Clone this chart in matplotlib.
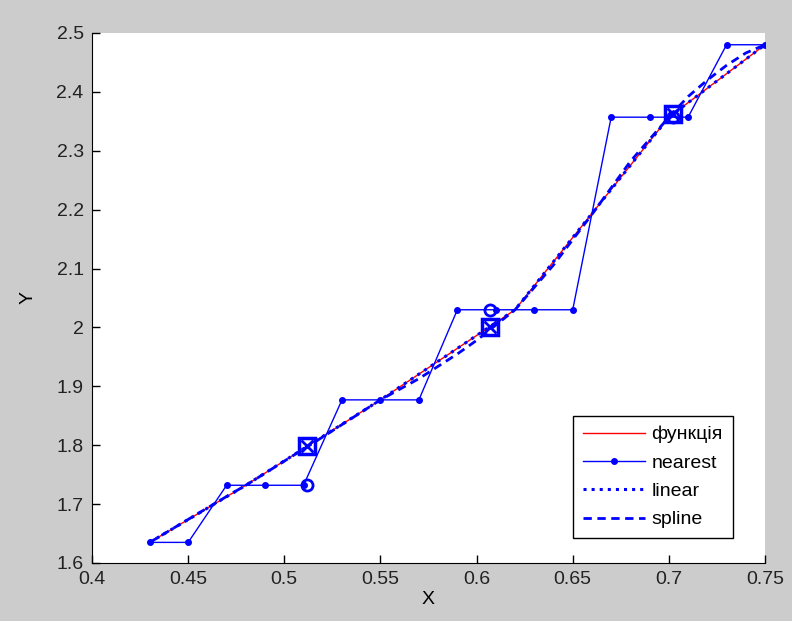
import matplotlib
matplotlib.use('Agg')
import matplotlib.pyplot as plt

# table nodes (function / linear interpolation)
node_x = [0.43, 0.48, 0.55, 0.62, 0.70, 0.75]
node_y = [1.635, 1.732, 1.877, 2.03, 2.357, 2.48]

# nearest interpolation on the 0.02 grid
near_x = [0.43, 0.45, 0.47, 0.49, 0.51, 0.53, 0.55, 0.57, 0.59,
          0.61, 0.63, 0.65, 0.67, 0.69, 0.71, 0.73, 0.75]
near_y = [1.635, 1.635, 1.732, 1.732, 1.732, 1.877, 1.877, 1.877, 2.03,
          2.03, 2.03, 2.03, 2.357, 2.357, 2.357, 2.48, 2.48]

# spline curve
spl_x = [0.43, 0.45, 0.47, 0.48, 0.50, 0.52, 0.55, 0.57, 0.59, 0.60,
         0.62, 0.64, 0.66, 0.68, 0.70, 0.71, 0.72, 0.73, 0.74, 0.75]
spl_y = [1.635, 1.674, 1.713, 1.732, 1.773, 1.814, 1.877, 1.913, 1.955, 1.978,
         2.03, 2.106, 2.192, 2.282, 2.357, 2.392, 2.420, 2.445, 2.466, 2.48]

# test points
pt_x = [0.512, 0.607, 0.702]
pt_interp = [1.798, 2.0, 2.363]
pt_near = [1.732, 2.03, 2.357]

plt.rcParams['font.family'] = ['Liberation Sans', 'DejaVu Sans']
plt.rcParams['font.size'] = 14

fig = plt.figure(figsize=(7.92, 6.21), dpi=100, facecolor='#cccccc')
ax = fig.add_axes([0.1162, 0.0934, 0.8497, 0.8535])

ax.plot(node_x, node_y, color='red', lw=1, label='функція')
ax.plot(near_x, near_y, color='blue', lw=1, marker='.', markersize=8, label='nearest')
ax.plot(node_x, node_y, color='blue', lw=2.2, linestyle=':', label='linear')
ax.plot(spl_x, spl_y, color='blue', lw=2, linestyle='--', dashes=(3, 2), label='spline')

ax.plot(pt_x, pt_near, 'o', color='blue', mfc='none', mew=2, markersize=8)
ax.plot(pt_x, pt_interp, 's', color='blue', mfc='none', mew=2.5, markersize=12)
ax.plot(pt_x, pt_interp, 'x', color='blue', mew=2, markersize=8)

ax.set_xlim(0.4, 0.75)
ax.set_ylim(1.6, 2.5)
ax.set_xticks([0.4, 0.45, 0.5, 0.55, 0.6, 0.65, 0.7, 0.75])
ax.set_xticklabels(['0.4', '0.45', '0.5', '0.55', '0.6', '0.65', '0.7', '0.75'])
ax.set_yticks([1.6, 1.7, 1.8, 1.9, 2.0, 2.1, 2.2, 2.3, 2.4, 2.5])
ax.set_yticklabels(['1.6', '1.7', '1.8', '1.9', '2', '2.1', '2.2', '2.3', '2.4', '2.5'])
ax.tick_params(direction='in', length=6, width=1, pad=6, colors='black', labelcolor='#222222')

ax.spines['top'].set_visible(False)
ax.spines['right'].set_visible(False)
ax.set_xlabel('X', labelpad=2)
ax.set_ylabel('Y', labelpad=14)

leg = ax.legend(loc='lower right', bbox_to_anchor=(0.952, 0.047), borderaxespad=0,
                fancybox=False, edgecolor='black', framealpha=1, handlelength=3.2,
                handletextpad=0.35, borderpad=0.5, labelspacing=0.55, fontsize=14)
leg.get_frame().set_linewidth(1)

fig.savefig('out.png', dpi=100, facecolor=fig.get_facecolor())
